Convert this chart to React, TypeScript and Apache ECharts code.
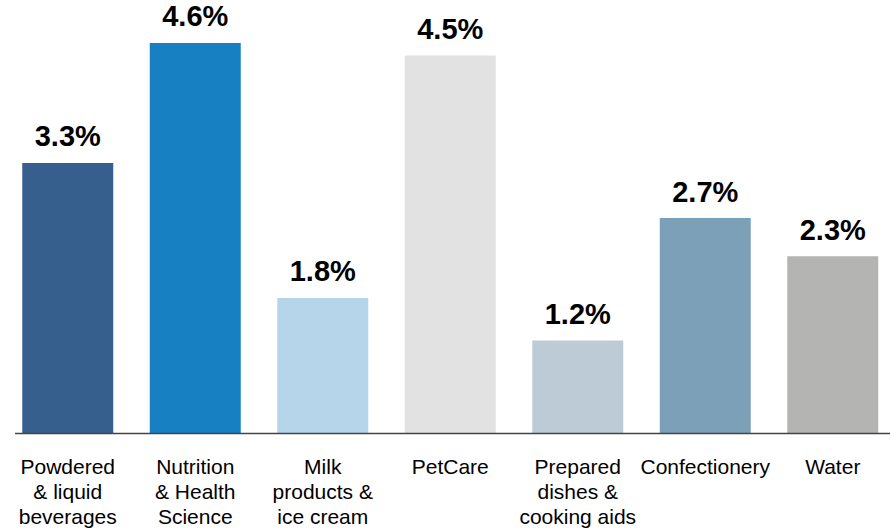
import React, { useEffect, useRef } from "react";
import * as echarts from "echarts";

const categories = [
  "Powdered\n& liquid\nbeverages",
  "Nutrition\n& Health\nScience",
  "Milk\nproducts &\nice cream",
  "PetCare",
  "Prepared\ndishes &\ncooking aids",
  "Confectionery",
  "Water",
];
// bar heights
const values = [3.29, 4.64, 1.77, 4.5, 1.29, 2.67, 2.24];
// printed labels
const labels = ["3.3%", "4.6%", "1.8%", "4.5%", "1.2%", "2.7%", "2.3%"];
const colors = ["#365F8E", "#1780C2", "#B7D5EA", "#E2E2E2", "#BDCBD7", "#7BA0B8", "#B4B4B3"];

export default function App() {
  const ref = useRef<HTMLDivElement>(null);
  useEffect(() => {
    document.body.style.margin = "0";
    const chart = echarts.init(ref.current!, null, { renderer: "svg" });
    chart.setOption({
      animation: false,
      backgroundColor: "#ffffff",
      grid: {
        left: 4,
        width: 892.5,
        top: 11,
        bottom: 99,
        containLabel: false,
        outerBoundsMode: "none",
      },
      xAxis: {
        type: "category",
        data: categories,
        axisLine: { show: false },
        axisTick: { show: false },
        axisLabel: {
          interval: 0,
          color: "#000",
          fontFamily: "Liberation Sans, Arial, sans-serif",
          fontSize: 21,
          lineHeight: 25,
          margin: 21,
          align: "center",
        },
      },
      yAxis: {
        type: "value",
        min: 0.25,
        max: 5,
        show: false,
        splitLine: { show: false },
      },
      series: [
        {
          type: "bar",
          barWidth: 91,
          data: values.map((v, i) => ({ value: v, itemStyle: { color: colors[i] } })),
          label: {
            show: true,
            position: "top",
            distance: 12,
            formatter: (p: any) => labels[p.dataIndex],
            color: "#000",
            fontFamily: "Liberation Sans, Arial, sans-serif",
            fontWeight: "bold",
            fontSize: 29,
          },
        },
      ],
      graphic: [
        {
          type: "line",
          shape: { x1: 15, y1: 433.5, x2: 890, y2: 433.5 },
          style: { stroke: "#444", lineWidth: 1.5 },
          z: 10,
        },
      ],
    });
    return () => chart.dispose();
  }, []);
  return <div ref={ref} style={{ width: 891, height: 532 }} />;
}
